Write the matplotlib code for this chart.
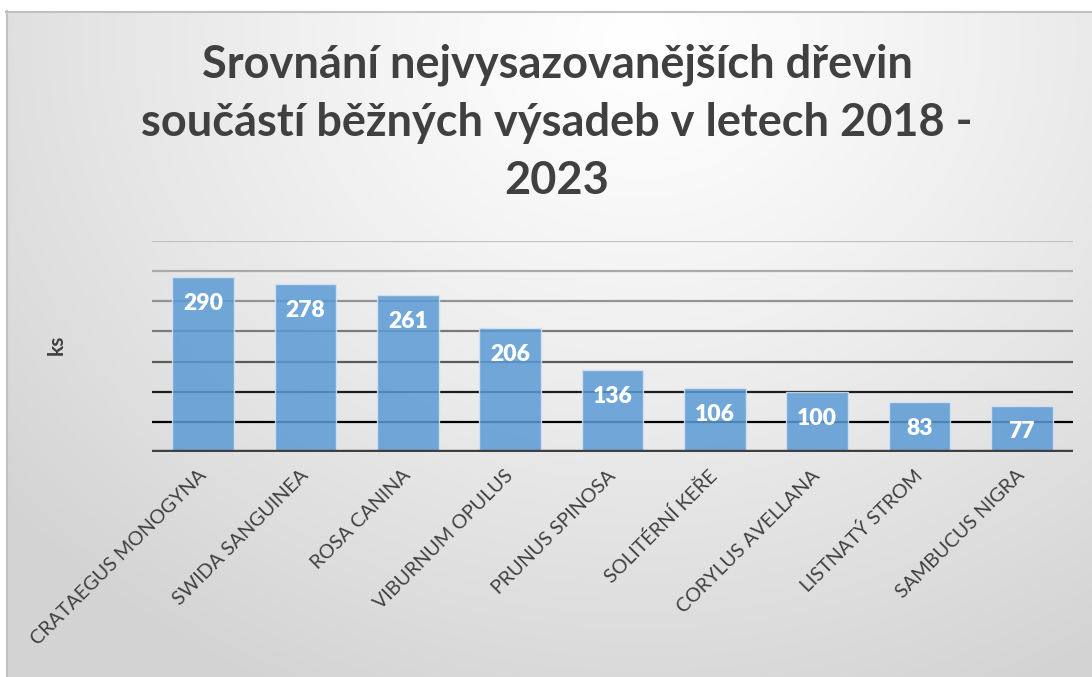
import numpy as np
import matplotlib

matplotlib.use("Agg")
import matplotlib.pyplot as plt
from matplotlib.patches import Rectangle

species = [
    "CRATAEGUS MONOGYNA",
    "SWIDA SANGUINEA",
    "ROSA CANINA",
    "VIBURNUM OPULUS",
    "PRUNUS SPINOSA",
    "SOLITÉRNÍ KEŘE",
    "CORYLUS AVELLANA",
    "LISTNATÝ STROM",
    "SAMBUCUS NIGRA",
]
counts = [290, 278, 261, 206, 136, 106, 100, 83, 77]
grid_levels = [50, 100, 150, 200, 250, 300, 350]
grid_colors = ["#000000", "#1c1c1c", "#5a5a5a", "#7a7a7a", "#939393", "#aaaaaa", "#c2c2c2"]

title_lines = [
    "Srovnání nejvysazovanějších dřevin",
    "součástí běžných výsadeb v letech 2018 -",
    "2023",
]
font = "Lato"

W, H = 1092, 677
fig = plt.figure(figsize=(W / 100, H / 100), dpi=100)
fig.patch.set_facecolor("white")

# radial grey background like the excel chart area
bg = fig.add_axes([0, 0, 1, 1])
yy, xx = np.mgrid[0:H, 0:W]
d = np.sqrt(((xx - 640) / 1.15) ** 2 + (yy - 40) ** 2)
v = 1.0 - 0.17 * np.clip(d / 720, 0, 1) ** 1.2
img = np.dstack([v, v, v])
bg.imshow(img, extent=[0, W, H, 0], aspect="auto", interpolation="bilinear")
bg.add_patch(Rectangle((0, 0), W, 11, color="white", zorder=2))
bg.add_patch(Rectangle((0, 0), 6, H, color="white", zorder=2))
bg.plot([6, W], [11.5, 11.5], color="#c0c0c0", lw=1.5, zorder=3)
bg.plot([6.5, 6.5], [11, H], color="#c0c0c0", lw=1.5, zorder=3)
bg.set_xlim(0, W)
bg.set_ylim(H, 0)
bg.axis("off")

ax = fig.add_axes([152 / W, 1 - 452 / H, (1073 - 152) / W, (452 - 241) / H])
ax.patch.set_alpha(0)
x = np.arange(len(species))
for lvl, col in zip(grid_levels, grid_colors):
    ax.axhline(lvl, color=col, lw=1.6, zorder=1)
bars = ax.bar(x, counts, width=0.6, color="#5b9bd5", alpha=0.85,
              edgecolor="#d6e5f4", linewidth=1.0, zorder=2)
ax.axhline(0, color="#404040", lw=3.2, zorder=4)
ax.set_xlim(-0.5, len(species) - 0.5)
ax.set_ylim(0, 350)

for xi, val in zip(x, counts):
    ax.annotate(str(val), (xi, val), xytext=(0, -19), textcoords="offset points",
                ha="center", va="center", color="white", fontsize=16.5,
                fontweight="heavy", family=font, zorder=5)

for s in ax.spines.values():
    s.set_visible(False)
ax.set_yticks([])
ax.set_xticks(x)
ax.set_xticklabels(species, rotation=45, ha="right", va="center",
                   rotation_mode="anchor", fontsize=14.2, color="#404040",
                   family=font)
ax.tick_params(axis="x", length=0, pad=15)

fig.text(57 / W, 1 - 345 / H, "ks", rotation=90, ha="center", va="center",
         fontsize=15, fontweight="bold", color="#404040", family=font)
for i, line in enumerate(title_lines):
    fig.text(557 / W, 1 - (78 + 58 * i) / H, line, ha="center", va="baseline",
             fontsize=32.5, fontweight="bold", color="#404040", family=font)

fig.savefig("out.png", dpi=100)
